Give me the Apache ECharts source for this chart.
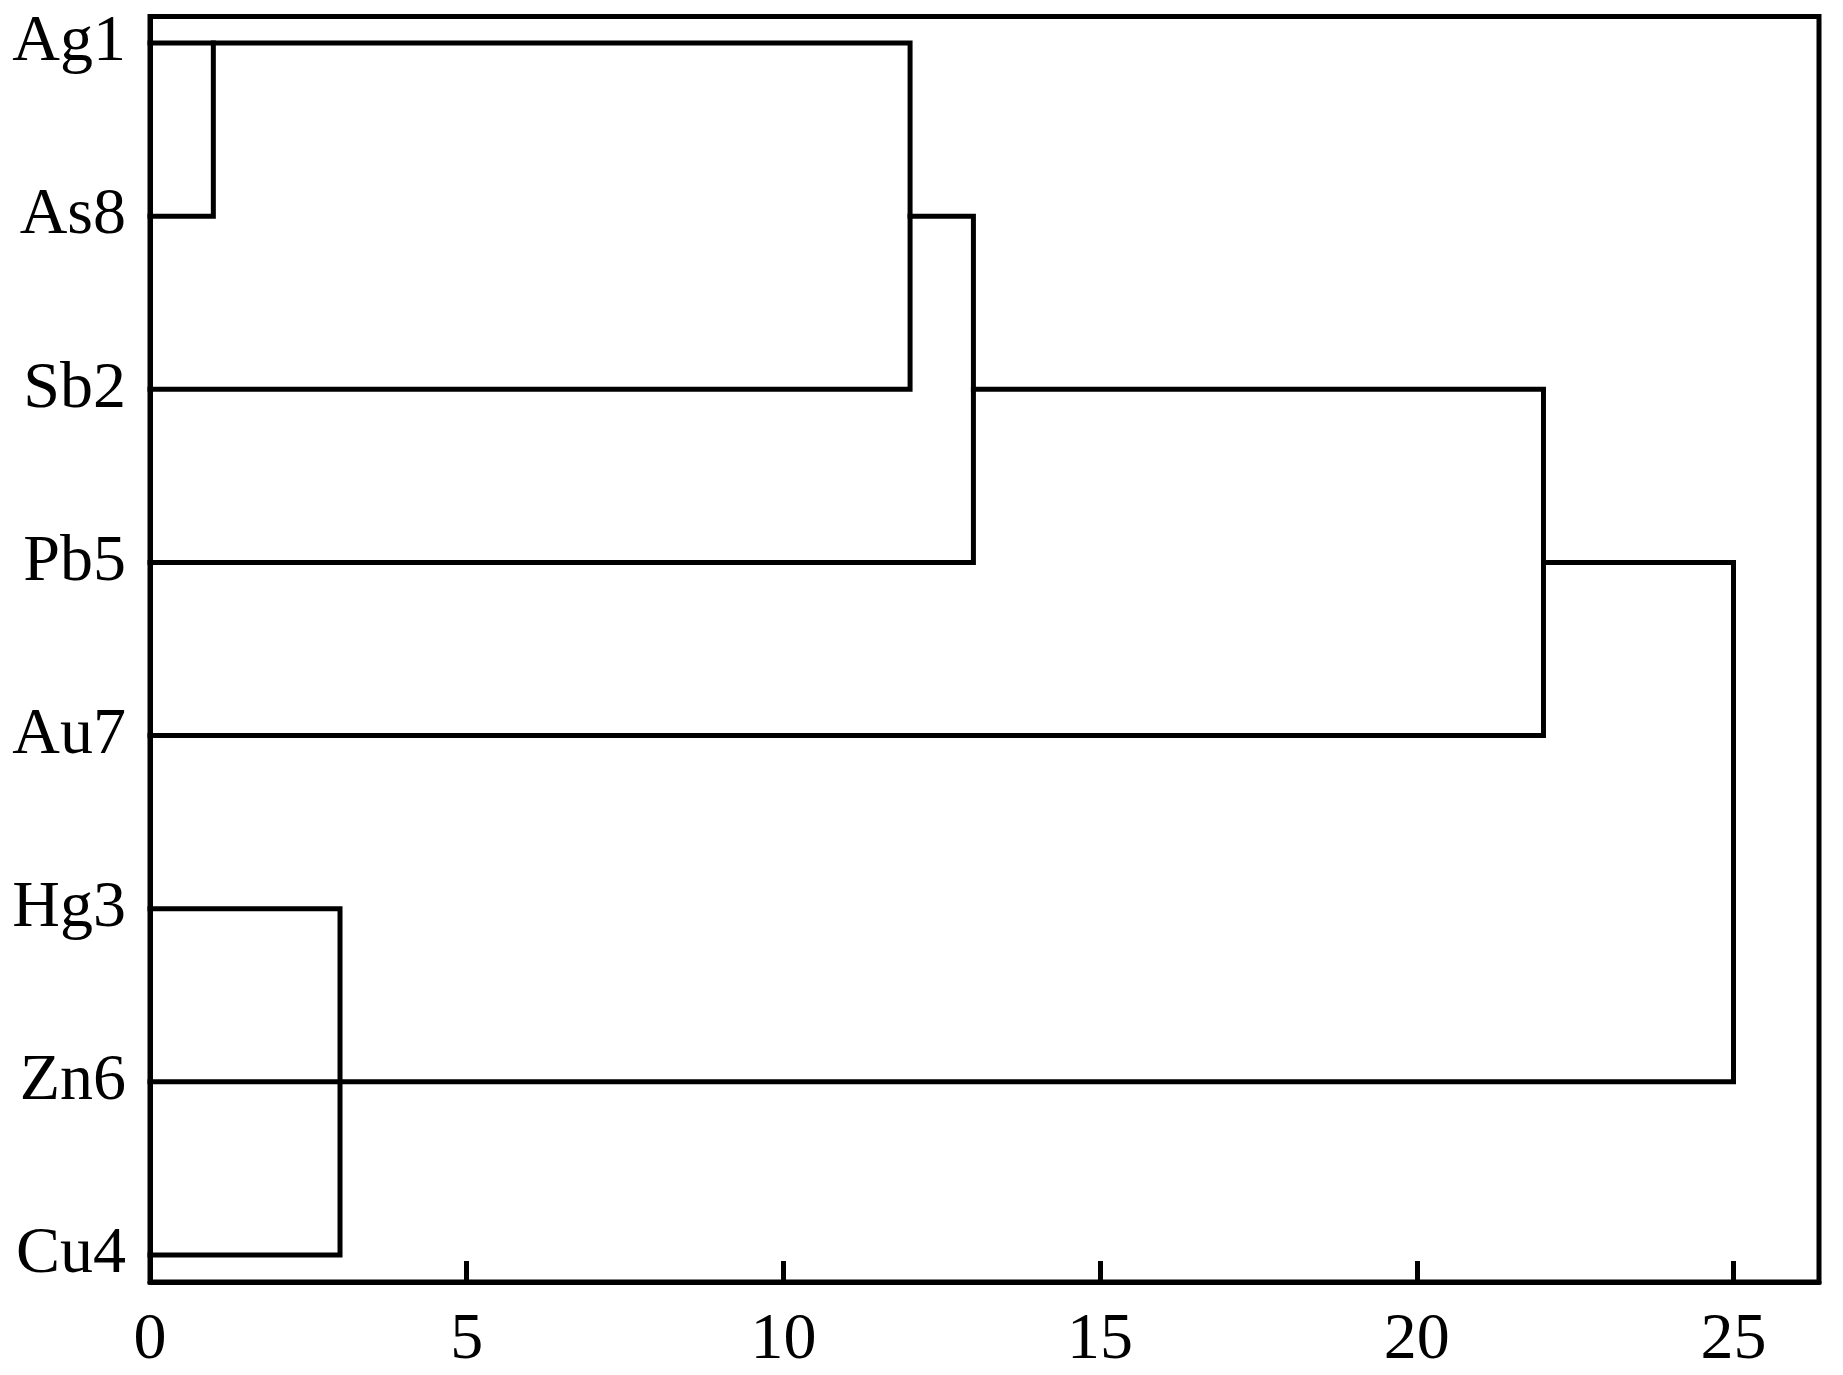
<!DOCTYPE html>
<html>
<head>
<meta charset="utf-8">
<script src="https://cdn.jsdelivr.net/npm/echarts@6/dist/echarts.min.js"></script>
<style>
  html, body { margin: 0; padding: 0; background: #fff; }
  #chart { width: 1843px; height: 1375px; }
</style>
</head>
<body>
<div id="chart"></div>
<script>
// Leaf (variable) names, top to bottom
const leafNames = ['Ag1', 'As8', 'Sb2', 'Pb5', 'Au7', 'Hg3', 'Zn6', 'Cu4'];
// x-axis tick labels (rescaled distance)
const xTicks = [0, 5, 10, 15, 20, 25];
// Dendrogram branches as polylines of [distance, leaf row index]
const branchAs8 = [[0, 1], [1, 1], [1, 0]];
const branchAgSb = [[0, 0], [12, 0], [12, 2], [0, 2]];
const branchPb = [[12, 1], [13, 1], [13, 3], [0, 3]];
const branchAu = [[13, 2], [22, 2], [22, 4], [0, 4]];
const branchZn = [[22, 3], [25, 3], [25, 6], [0, 6]];
const branchHgCu = [[0, 5], [3, 5], [3, 7], [0, 7]];
const branches = [branchAs8, branchAgSb, branchPb, branchAu, branchZn, branchHgCu];

const chart = echarts.init(document.getElementById('chart'), null, { renderer: 'canvas' });
const FONT = '"Liberation Serif", "Times New Roman", serif';

chart.setOption({
  backgroundColor: '#ffffff',
  animation: false,
  grid: {
    left: 150, top: 16.5, right: 24, bottom: 93,
    show: true, borderColor: '#000', borderWidth: 5, backgroundColor: 'transparent',
    outerBoundsMode: 'none'
  },
  xAxis: {
    type: 'value', min: 0, max: 26.35, interval: 5, position: 'bottom',
    axisLine: { show: true, onZero: false, lineStyle: { color: '#000', width: 5 } },
    axisTick: { show: true, inside: true, length: 21, lineStyle: { color: '#000', width: 5 }, customValues: xTicks },
    axisLabel: { show: true, color: '#000', fontFamily: FONT, fontSize: 66, margin: 26, customValues: xTicks },
    splitLine: { show: false }
  },
  yAxis: {
    type: 'value', inverse: true, min: -0.153, max: 7.156, position: 'left',
    axisLine: { show: true, onZero: false, lineStyle: { color: '#000', width: 5 } },
    axisTick: { show: false },
    axisLabel: {
      show: true, color: '#000', fontFamily: FONT, fontSize: 66, margin: 24,
      customValues: leafNames.map((n, i) => i),
      formatter: v => leafNames[Math.round(v)] || ''
    },
    splitLine: { show: false }
  },
  series: [{
    type: 'lines',
    coordinateSystem: 'cartesian2d',
    polyline: true,
    silent: true,
    lineStyle: { color: '#000', width: 5, opacity: 1, cap: 'square', join: 'miter' },
    data: branches.map(b => ({ coords: b }))
  }]
});
</script>
</body>
</html>
